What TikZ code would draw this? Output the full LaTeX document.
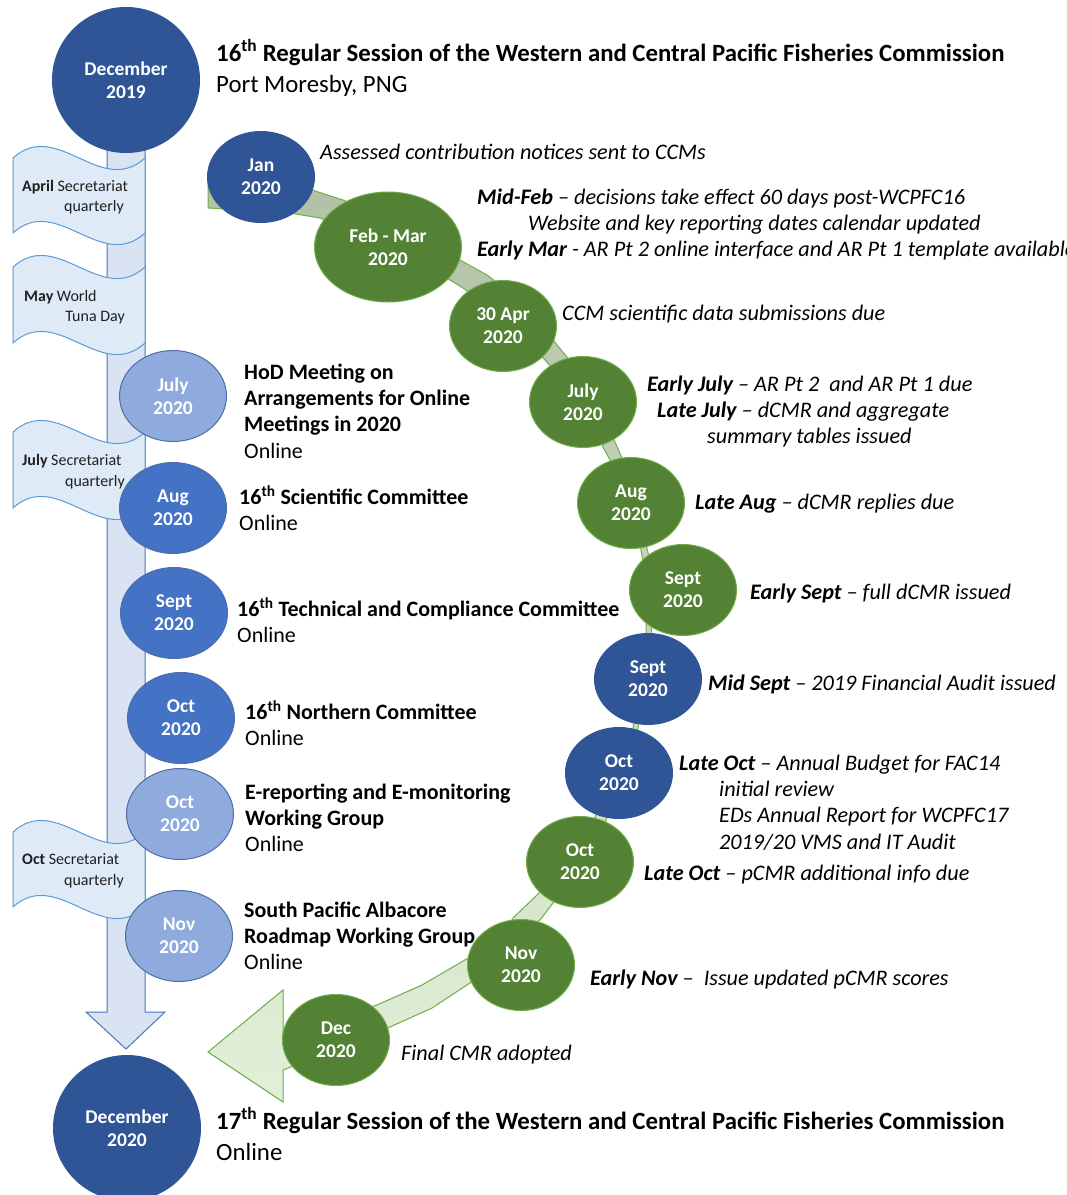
\documentclass[tikz,border=0pt]{standalone}
\usepackage{fontspec}
\setmainfont{Carlito}
\usetikzlibrary{shapes.geometric}
\definecolor{dkblue}{HTML}{2F5597}
\definecolor{mdblue}{HTML}{4472C4}
\definecolor{ltblue}{HTML}{8FAADC}
\definecolor{grn}{HTML}{548235}
\definecolor{grnline}{HTML}{70AD47}
\definecolor{shaftfill}{HTML}{DAE3F3}
\definecolor{shaftline}{HTML}{4A76C0}
\definecolor{bannerfill}{HTML}{DEEBF7}
\definecolor{bannerline}{HTML}{5B9BD5}
\definecolor{bandtop}{HTML}{B2C0A6}
\definecolor{bandbot}{HTML}{E2F0D9}
\newcommand\ttlfont{\fontsize{24.8}{30}\selectfont}
\newcommand\evfont{\fontsize{22}{26}\selectfont}
\newcommand\anfont{\fontsize{22.2}{26}\selectfont\itshape}
\newcommand\bnfont{\fontsize{16}{20}\selectfont}
\newcommand\cfont{\fontsize{19.5}{23}\selectfont\bfseries}
\newcommand\mybanner[2]{%
  \filldraw[bannerstyle] (13,#1) .. controls (57,{#1-40}) and (101,{#1+40}) .. (145,#1)
    -- (145,#2) .. controls (101,{#2+40}) and (57,{#2-40}) .. (13,#2) -- cycle;}
\tikzset{
  circ/.style={ellipse, inner sep=0pt, text=white, font=\cfont, align=center,
    minimum width=107pt, minimum height=91pt, line width=1pt},
  bigcirc/.style={circ, minimum width=147pt, minimum height=145pt},
  dk/.style={fill=dkblue, draw=dkblue},
  md/.style={fill=mdblue, draw=dkblue!85},
  lt/.style={fill=ltblue, draw=dkblue!85},
  gr/.style={fill=grn, draw=grnline},
  lbl/.style={inner sep=0pt, anchor=base west, text=black},
  ttl/.style={lbl, font=\ttlfont},
  ev/.style={lbl, font=\evfont},
  an/.style={lbl, font=\anfont},
  bn/.style={inner sep=0pt, font=\bnfont, text=black!88},
  bannerstyle/.style={fill=bannerfill, draw=bannerline, line width=1pt},
  shaftstyle/.style={fill=shaftfill, draw=shaftline, line width=1pt},
  bandstyle/.style={top color=bandtop, bottom color=bandbot, draw=grnline, line width=1pt},
}
\begin{document}
\begin{tikzpicture}[x=1pt,y=-1pt]
\useasboundingbox (0,0) rectangle (1067,1195);
\clip (0,0) rectangle (1067,1195);
\fill[white] (0,0) rectangle (1067,1195);

% vertical block arrow
\draw[shaftstyle] (107,140) -- (107,1012) -- (86,1012) -- (126,1049) -- (165,1012) -- (145,1012) -- (145,140) -- cycle;

% green curved band with arrowhead
\shadedraw[bandstyle] (208,180) -- (262,184) -- (312,190) -- (343,200) -- (410,228) -- (460,260)
  -- (487,275) -- (530,308) -- (557,345) -- (567,357) -- (598,400) -- (615,442) -- (622,458)
  -- (638,500) -- (646,545) -- (650,560) -- (652,600) -- (651,640) -- (645,680) -- (638,728)
  -- (626,770) -- (608,815) -- (590,860) -- (553,903) -- (540,920) -- (505,940) -- (470,957)
  -- (422,985) -- (377,1005) -- (283,1035) -- (283,990) -- (208,1052) -- (283,1102) -- (283,1070)
  -- (390,1027) -- (432,1008) -- (470,983) -- (500,950) -- (513,918) -- (537,895) -- (580,850)
  -- (596,815) -- (620,770) -- (633,728) -- (640,680) -- (646,640) -- (646,600) -- (643,560)
  -- (640,545) -- (628,495) -- (610,460) -- (603,447) -- (585,405) -- (545,360) -- (520,330)
  -- (463,288) -- (450,280) -- (400,250) -- (320,218) -- (290,213) -- (250,210) -- (208,208) -- cycle;

% banners
\mybanner{158}{233}
\mybanner{267}{343}
\mybanner{432}{508}
\mybanner{832}{907}
\node[bn, anchor=base west] (b1a) at (22,191) {\textbf{April} Secretariat};
\node[bn, anchor=base east] (b1b) at (124,211) {quarterly};
\node[bn, anchor=base west] (b2a) at (24,301) {\textbf{May} World};
\node[bn, anchor=base east] (b2b) at (125,321) {Tuna Day};
\node[bn, anchor=base west] (b3a) at (22,465) {\textbf{July} Secretariat};
\node[bn, anchor=base east] (b3b) at (125,486) {quarterly};
\node[bn, anchor=base west] (b4a) at (22,864) {\textbf{Oct} Secretariat};
\node[bn, anchor=base east] (b4b) at (124,885) {quarterly};

% big circles
\node[bigcirc, dk] (dec19) at (126,80) {December\\2019};
\node[bigcirc, dk] (dec20) at (127,1128) {December\\2020};

% left circles
\node[circ, lt] (julL) at (173,396) {July\\2020};
\node[circ, md] (augL) at (173,508) {Aug\\2020};
\node[circ, md] (sepL) at (174,613) {Sept\\2020};
\node[circ, md] (octL) at (181,718) {Oct\\2020};
\node[circ, lt] (octE) at (180,814) {Oct\\2020};
\node[circ, lt] (novL) at (179,936) {Nov\\2020};

% right circles
\node[circ, dk] (jan) at (261,177) {Jan\\2020};
\node[circ, gr, minimum width=147pt, minimum height=110pt] (feb) at (388,247) {Feb - Mar\\2020};
\node[circ, gr] (apr) at (503,326) {30 Apr\\2020};
\node[circ, gr] (jul) at (583,402) {July\\2020};
\node[circ, gr] (aug) at (631,503) {Aug\\2020};
\node[circ, gr] (sepg) at (683,590) {Sept\\2020};
\node[circ, dk] (sepb) at (648,679) {Sept\\2020};
\node[circ, dk] (octb) at (619,773) {Oct\\2020};
\node[circ, gr] (octg) at (580,862) {Oct\\2020};
\node[circ, gr] (nov) at (521,965) {Nov\\2020};
\node[circ, gr] (dec) at (336,1040) {Dec\\2020};

% main titles
\node[ttl] (t1) at (216,61) {\textbf{16\textsuperscript{th} Regular Session of the Western and Central Pacific Fisheries Commission}};
\node[ttl] (t1b) at (216,92) {Port Moresby, PNG};
\node[ttl] (t2) at (216,1129) {\textbf{17\textsuperscript{th} Regular Session of the Western and Central Pacific Fisheries Commission}};
\node[ttl] (t2b) at (216,1160) {Online};

% left events
\node[ev] (e1a) at (244,379) {\textbf{HoD Meeting on}};
\node[ev] (e1b) at (244,405) {\textbf{Arrangements for Online}};
\node[ev] (e1c) at (244,431) {\textbf{Meetings in 2020}};
\node[ev] (e1d) at (244,458) {Online};
\node[ev] (e2a) at (239,504) {\textbf{16\textsuperscript{th} Scientific Committee}};
\node[ev] (e2b) at (239,530) {Online};
\node[ev] (e3a) at (237,616) {\textbf{16\textsuperscript{th} Technical and Compliance Committee}};
\node[ev] (e3b) at (237,642) {Online};
\node[ev] (e4a) at (245,719) {\textbf{16\textsuperscript{th} Northern Committee}};
\node[ev] (e4b) at (245,745) {Online};
\node[ev] (e5a) at (245,799) {\textbf{E-reporting and E-monitoring}};
\node[ev] (e5b) at (245,825) {\textbf{Working Group}};
\node[ev] (e5c) at (245,851) {Online};
\node[ev] (e6a) at (244,917) {\textbf{South Pacific Albacore}};
\node[ev] (e6b) at (244,943) {\textbf{Roadmap Working Group}};
\node[ev] (e6c) at (244,969) {Online};

% right annotations
\node[an] (a1) at (320,159) {Assessed contribution notices sent to CCMs};
\node[an] (a2) at (477,204) {\textbf{Mid-Feb} -- decisions take effect 60 days post-WCPFC16};
\node[an] (a3) at (528,230) {Website and key reporting dates calendar updated};
\node[an] (a4) at (477,256) {\textbf{Early Mar} - AR Pt 2 online interface and AR Pt 1 template available};
\node[an] (a5) at (562,320) {CCM scientific data submissions due};
\node[an] (a6) at (647,391) {\textbf{Early July} -- AR Pt 2 \ and AR Pt 1 due};
\node[an] (a7) at (657,417) {\textbf{Late July} -- dCMR and aggregate};
\node[an] (a8) at (707,443) {summary tables issued};
\node[an] (a9) at (695,509) {\textbf{Late Aug} -- dCMR replies due};
\node[an] (a10) at (750,599) {\textbf{Early Sept} -- full dCMR issued};
\node[an] (a11) at (708,690) {\textbf{Mid Sept} -- 2019 Financial Audit issued};
\node[an] (a12) at (679,770) {\textbf{Late Oct} -- Annual Budget for FAC14};
\node[an] (a13) at (719,796) {initial review};
\node[an] (a14) at (719,822) {EDs Annual Report for WCPFC17};
\node[an] (a15) at (719,849) {2019/20 VMS and IT Audit};
\node[an] (a16) at (644,880) {\textbf{Late Oct} -- pCMR additional info due};
\node[an] (a17) at (590,985) {\textbf{Early Nov} -- \ Issue updated pCMR scores};
\node[an] (a18) at (401,1060) {Final CMR adopted};
\end{tikzpicture}
\end{document}
